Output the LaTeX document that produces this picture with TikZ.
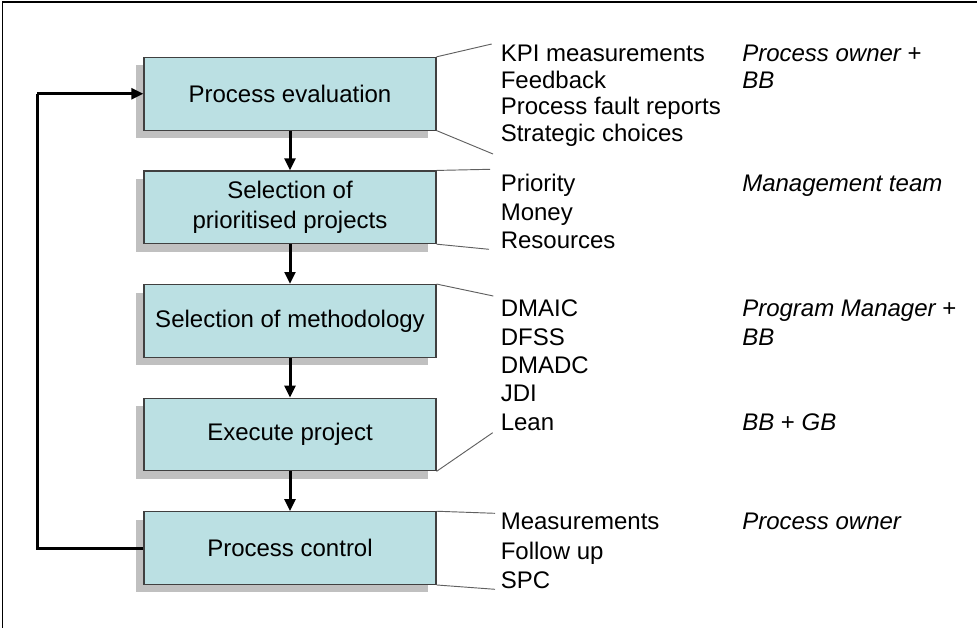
\documentclass[tikz,border=0pt]{standalone}
\usepackage{fontspec}
\setmainfont{Liberation Sans}
\usetikzlibrary{arrows.meta,shadows}
\definecolor{boxfill}{HTML}{BBE0E3}
\definecolor{boxline}{HTML}{404040}
\definecolor{shadowgrey}{HTML}{C0C0C0}
\definecolor{brackline}{HTML}{606060}
\begin{document}
\begin{tikzpicture}[x=0.75pt,y=-0.75pt,
  stagebox/.style={draw=boxline, line width=0.8pt, fill=boxfill,
    minimum width=219pt, minimum height=54.5pt, inner sep=0pt,
    align=center, font=\fontsize{18}{22.5}\selectfont,
    drop shadow={shadow xshift=-6pt, shadow yshift=-6pt, fill=shadowgrey, opacity=1}},
  flowarrow/.style={line width=2.25pt, -{Triangle[length=9pt,width=8pt]}},
  loopline/.style={line width=2.25pt},
  bracket/.style={draw=brackline, line width=0.7pt},
  item/.style={anchor=base west, inner sep=0pt, font=\fontsize{18}{22}\selectfont},
  role/.style={anchor=base west, inner sep=0pt, font=\fontsize{18}{22}\selectfont\itshape}]
\useasboundingbox (0,0) rectangle (977,628);
\draw[line width=1.1pt] (977,2) -- (2.5,2) -- (2.5,628);

\node[stagebox] (b1) at (290,93.7) {Process evaluation};
\node[stagebox] (b2) at (290,207.3) {Selection of\\prioritised projects};
\node[stagebox] (b3) at (290,320.9) {Selection of methodology};
\node[stagebox] (b4) at (290,434.5) {Execute project};
\node[stagebox] (b5) at (290,548.1) {Process control};

\draw[flowarrow] (b1.south) -- (b2.north);
\draw[flowarrow] (b2.south) -- (b3.north);
\draw[flowarrow] (b3.south) -- (b4.north);
\draw[flowarrow] (b4.south) -- (b5.north);

\coordinate (loopx) at (37.3,0);
\draw[loopline] (b5.west) -- (b5.west -| loopx) -- (b1.west -| loopx);
\draw[flowarrow] (b1.west -| loopx) -- (b1.west);

\coordinate (e1a) at (491.7,44);
\coordinate (e1b) at (493,154);
\coordinate (e2a) at (490,169.3);
\coordinate (e2b) at (489,249.3);
\coordinate (e3a) at (493.3,296);
\coordinate (e4b) at (492.7,432.7);
\coordinate (e5a) at (495,513.3);
\coordinate (e5b) at (495,589.3);
\draw[bracket] (b1.north east) -- (e1a);
\draw[bracket] (b1.south east) -- (e1b);
\draw[bracket] (b2.north east) -- (e2a);
\draw[bracket] (b2.south east) -- (e2b);
\draw[bracket] (b3.north east) -- (e3a);
\draw[bracket] (b4.south east) -- (e4b);
\draw[bracket] (b5.north east) -- (e5a);
\draw[bracket] (b5.south east) -- (e5b);

\foreach \t/\y [count=\i] in {KPI measurements/61.7, Feedback/88.3,
    Process fault reports/114.5, Strategic choices/141,
    Priority/191.7, Money/220, Resources/248.3,
    DMAIC/316.7, DFSS/345, DMADC/373.3, JDI/401.7, Lean/430,
    Measurements/529.3, Follow up/559, SPC/588.3}
  \node[item] (it\i) at (500.5,\y) {\t};

\node[role] (r1) at (742,61.7) {Process owner \upshape+};
\node[role] (r2) at (742,88.3) {BB};
\node[role] (r3) at (742,191.7) {Management team};
\node[role] (r4) at (742,316.7) {Program Manager \upshape+};
\node[role] (r5) at (742,345) {BB};
\node[role] (r6) at (742,430) {BB \upshape+\itshape{} GB};
\node[role] (r7) at (742,529.3) {Process owner};
\end{tikzpicture}
\end{document}
